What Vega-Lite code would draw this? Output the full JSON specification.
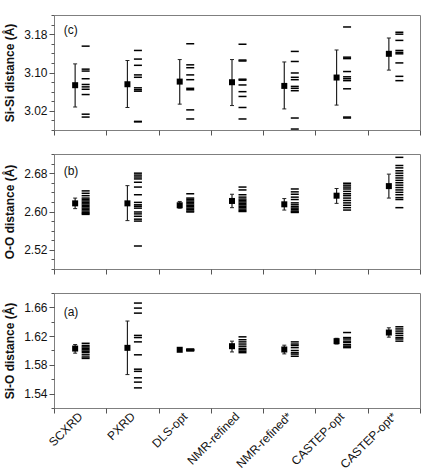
{
  "$schema": "https://vega.github.io/schema/vega-lite/v6.json",
  "padding": {"left": 3, "top": 14, "right": 5, "bottom": 0},
  "background": "white",
  "config": {
    "font": "Liberation Sans",
    "view": {"stroke": "#7f7f7f", "strokeWidth": 1},
    "concat": {"spacing": 17},
    "axis": {
      "domain": false,
      "grid": false,
      "labelFont": "Liberation Sans",
      "labelFontSize": 12,
      "labelColor": "#111111",
      "tickColor": "#555555",
      "titleFont": "Liberation Sans",
      "titleFontSize": 12,
      "titleFontWeight": "bold",
      "titleColor": "#111111"
    }
  },
  "datasets": {
    "means": [
      {"pair": "Si-Si", "method": "SCXRD", "mean": 3.0735, "lo": 3.028, "hi": 3.118},
      {"pair": "Si-Si", "method": "PXRD", "mean": 3.0755, "lo": 3.027, "hi": 3.125},
      {"pair": "Si-Si", "method": "DLS-opt", "mean": 3.081, "lo": 3.034, "hi": 3.127},
      {"pair": "Si-Si", "method": "NMR-refined", "mean": 3.0797, "lo": 3.031, "hi": 3.127},
      {"pair": "Si-Si", "method": "NMR-refined*", "mean": 3.072, "lo": 3.024, "hi": 3.122},
      {"pair": "Si-Si", "method": "CASTEP-opt", "mean": 3.0895, "lo": 3.032, "hi": 3.147},
      {"pair": "Si-Si", "method": "CASTEP-opt*", "mean": 3.139, "lo": 3.105, "hi": 3.172},
      {"pair": "O-O", "method": "SCXRD", "mean": 2.617, "lo": 2.606, "hi": 2.628},
      {"pair": "O-O", "method": "PXRD", "mean": 2.617, "lo": 2.581, "hi": 2.654},
      {"pair": "O-O", "method": "DLS-opt", "mean": 2.613, "lo": 2.607, "hi": 2.621},
      {"pair": "O-O", "method": "NMR-refined", "mean": 2.622, "lo": 2.608, "hi": 2.636},
      {"pair": "O-O", "method": "NMR-refined*", "mean": 2.615, "lo": 2.603, "hi": 2.627},
      {"pair": "O-O", "method": "CASTEP-opt", "mean": 2.633, "lo": 2.617, "hi": 2.648},
      {"pair": "O-O", "method": "CASTEP-opt*", "mean": 2.653, "lo": 2.628, "hi": 2.678},
      {"pair": "Si-O", "method": "SCXRD", "mean": 1.6027, "lo": 1.5963, "hi": 1.6083},
      {"pair": "Si-O", "method": "PXRD", "mean": 1.6037, "lo": 1.5665, "hi": 1.641},
      {"pair": "Si-O", "method": "DLS-opt", "mean": 1.601, "lo": 1.6, "hi": 1.602},
      {"pair": "Si-O", "method": "NMR-refined", "mean": 1.606, "lo": 1.598, "hi": 1.613},
      {"pair": "Si-O", "method": "NMR-refined*", "mean": 1.6014, "lo": 1.5953, "hi": 1.6074},
      {"pair": "Si-O", "method": "CASTEP-opt", "mean": 1.613, "lo": 1.609, "hi": 1.617},
      {"pair": "Si-O", "method": "CASTEP-opt*", "mean": 1.625, "lo": 1.6186, "hi": 1.6316}
    ],
    "dists": [
      {"pair": "Si-Si", "method": "SCXRD", "dist": 3.155},
      {"pair": "Si-Si", "method": "SCXRD", "dist": 3.107},
      {"pair": "Si-Si", "method": "SCXRD", "dist": 3.103},
      {"pair": "Si-Si", "method": "SCXRD", "dist": 3.087},
      {"pair": "Si-Si", "method": "SCXRD", "dist": 3.075},
      {"pair": "Si-Si", "method": "SCXRD", "dist": 3.070},
      {"pair": "Si-Si", "method": "SCXRD", "dist": 3.065},
      {"pair": "Si-Si", "method": "SCXRD", "dist": 3.054},
      {"pair": "Si-Si", "method": "SCXRD", "dist": 3.013},
      {"pair": "Si-Si", "method": "SCXRD", "dist": 3.007},
      {"pair": "Si-Si", "method": "PXRD", "dist": 3.146},
      {"pair": "Si-Si", "method": "PXRD", "dist": 3.128},
      {"pair": "Si-Si", "method": "PXRD", "dist": 3.115},
      {"pair": "Si-Si", "method": "PXRD", "dist": 3.095},
      {"pair": "Si-Si", "method": "PXRD", "dist": 3.090},
      {"pair": "Si-Si", "method": "PXRD", "dist": 3.068},
      {"pair": "Si-Si", "method": "PXRD", "dist": 3.064},
      {"pair": "Si-Si", "method": "PXRD", "dist": 3.061},
      {"pair": "Si-Si", "method": "PXRD", "dist": 2.998},
      {"pair": "Si-Si", "method": "PXRD", "dist": 2.997},
      {"pair": "Si-Si", "method": "DLS-opt", "dist": 3.160},
      {"pair": "Si-Si", "method": "DLS-opt", "dist": 3.116},
      {"pair": "Si-Si", "method": "DLS-opt", "dist": 3.110},
      {"pair": "Si-Si", "method": "DLS-opt", "dist": 3.095},
      {"pair": "Si-Si", "method": "DLS-opt", "dist": 3.085},
      {"pair": "Si-Si", "method": "DLS-opt", "dist": 3.067},
      {"pair": "Si-Si", "method": "DLS-opt", "dist": 3.064},
      {"pair": "Si-Si", "method": "DLS-opt", "dist": 3.022},
      {"pair": "Si-Si", "method": "DLS-opt", "dist": 3.003},
      {"pair": "Si-Si", "method": "NMR-refined", "dist": 3.159},
      {"pair": "Si-Si", "method": "NMR-refined", "dist": 3.126},
      {"pair": "Si-Si", "method": "NMR-refined", "dist": 3.124},
      {"pair": "Si-Si", "method": "NMR-refined", "dist": 3.086},
      {"pair": "Si-Si", "method": "NMR-refined", "dist": 3.084},
      {"pair": "Si-Si", "method": "NMR-refined", "dist": 3.074},
      {"pair": "Si-Si", "method": "NMR-refined", "dist": 3.060},
      {"pair": "Si-Si", "method": "NMR-refined", "dist": 3.050},
      {"pair": "Si-Si", "method": "NMR-refined", "dist": 3.027},
      {"pair": "Si-Si", "method": "NMR-refined", "dist": 3.003},
      {"pair": "Si-Si", "method": "NMR-refined*", "dist": 3.144},
      {"pair": "Si-Si", "method": "NMR-refined*", "dist": 3.123},
      {"pair": "Si-Si", "method": "NMR-refined*", "dist": 3.099},
      {"pair": "Si-Si", "method": "NMR-refined*", "dist": 3.090},
      {"pair": "Si-Si", "method": "NMR-refined*", "dist": 3.085},
      {"pair": "Si-Si", "method": "NMR-refined*", "dist": 3.071},
      {"pair": "Si-Si", "method": "NMR-refined*", "dist": 3.067},
      {"pair": "Si-Si", "method": "NMR-refined*", "dist": 3.062},
      {"pair": "Si-Si", "method": "NMR-refined*", "dist": 3.005},
      {"pair": "Si-Si", "method": "NMR-refined*", "dist": 2.982},
      {"pair": "Si-Si", "method": "CASTEP-opt", "dist": 3.195},
      {"pair": "Si-Si", "method": "CASTEP-opt", "dist": 3.132},
      {"pair": "Si-Si", "method": "CASTEP-opt", "dist": 3.129},
      {"pair": "Si-Si", "method": "CASTEP-opt", "dist": 3.102},
      {"pair": "Si-Si", "method": "CASTEP-opt", "dist": 3.091},
      {"pair": "Si-Si", "method": "CASTEP-opt", "dist": 3.087},
      {"pair": "Si-Si", "method": "CASTEP-opt", "dist": 3.083},
      {"pair": "Si-Si", "method": "CASTEP-opt", "dist": 3.066},
      {"pair": "Si-Si", "method": "CASTEP-opt", "dist": 3.007},
      {"pair": "Si-Si", "method": "CASTEP-opt", "dist": 3.005},
      {"pair": "Si-Si", "method": "CASTEP-opt*", "dist": 3.184},
      {"pair": "Si-Si", "method": "CASTEP-opt*", "dist": 3.180},
      {"pair": "Si-Si", "method": "CASTEP-opt*", "dist": 3.167},
      {"pair": "Si-Si", "method": "CASTEP-opt*", "dist": 3.146},
      {"pair": "Si-Si", "method": "CASTEP-opt*", "dist": 3.142},
      {"pair": "Si-Si", "method": "CASTEP-opt*", "dist": 3.139},
      {"pair": "Si-Si", "method": "CASTEP-opt*", "dist": 3.120},
      {"pair": "Si-Si", "method": "CASTEP-opt*", "dist": 3.092},
      {"pair": "Si-Si", "method": "CASTEP-opt*", "dist": 3.083},
      {"pair": "O-O", "method": "SCXRD", "dist": 2.643},
      {"pair": "O-O", "method": "SCXRD", "dist": 2.638},
      {"pair": "O-O", "method": "SCXRD", "dist": 2.633},
      {"pair": "O-O", "method": "SCXRD", "dist": 2.628},
      {"pair": "O-O", "method": "SCXRD", "dist": 2.625},
      {"pair": "O-O", "method": "SCXRD", "dist": 2.622},
      {"pair": "O-O", "method": "SCXRD", "dist": 2.619},
      {"pair": "O-O", "method": "SCXRD", "dist": 2.616},
      {"pair": "O-O", "method": "SCXRD", "dist": 2.613},
      {"pair": "O-O", "method": "SCXRD", "dist": 2.610},
      {"pair": "O-O", "method": "SCXRD", "dist": 2.607},
      {"pair": "O-O", "method": "SCXRD", "dist": 2.604},
      {"pair": "O-O", "method": "SCXRD", "dist": 2.601},
      {"pair": "O-O", "method": "SCXRD", "dist": 2.598},
      {"pair": "O-O", "method": "SCXRD", "dist": 2.596},
      {"pair": "O-O", "method": "SCXRD", "dist": 2.594},
      {"pair": "O-O", "method": "PXRD", "dist": 2.680},
      {"pair": "O-O", "method": "PXRD", "dist": 2.676},
      {"pair": "O-O", "method": "PXRD", "dist": 2.672},
      {"pair": "O-O", "method": "PXRD", "dist": 2.668},
      {"pair": "O-O", "method": "PXRD", "dist": 2.661},
      {"pair": "O-O", "method": "PXRD", "dist": 2.651},
      {"pair": "O-O", "method": "PXRD", "dist": 2.635},
      {"pair": "O-O", "method": "PXRD", "dist": 2.619},
      {"pair": "O-O", "method": "PXRD", "dist": 2.614},
      {"pair": "O-O", "method": "PXRD", "dist": 2.611},
      {"pair": "O-O", "method": "PXRD", "dist": 2.607},
      {"pair": "O-O", "method": "PXRD", "dist": 2.599},
      {"pair": "O-O", "method": "PXRD", "dist": 2.595},
      {"pair": "O-O", "method": "PXRD", "dist": 2.590},
      {"pair": "O-O", "method": "PXRD", "dist": 2.584},
      {"pair": "O-O", "method": "PXRD", "dist": 2.580},
      {"pair": "O-O", "method": "PXRD", "dist": 2.528},
      {"pair": "O-O", "method": "DLS-opt", "dist": 2.637},
      {"pair": "O-O", "method": "DLS-opt", "dist": 2.628},
      {"pair": "O-O", "method": "DLS-opt", "dist": 2.625},
      {"pair": "O-O", "method": "DLS-opt", "dist": 2.622},
      {"pair": "O-O", "method": "DLS-opt", "dist": 2.619},
      {"pair": "O-O", "method": "DLS-opt", "dist": 2.616},
      {"pair": "O-O", "method": "DLS-opt", "dist": 2.613},
      {"pair": "O-O", "method": "DLS-opt", "dist": 2.610},
      {"pair": "O-O", "method": "DLS-opt", "dist": 2.607},
      {"pair": "O-O", "method": "DLS-opt", "dist": 2.604},
      {"pair": "O-O", "method": "DLS-opt", "dist": 2.601},
      {"pair": "O-O", "method": "DLS-opt", "dist": 2.599},
      {"pair": "O-O", "method": "NMR-refined", "dist": 2.651},
      {"pair": "O-O", "method": "NMR-refined", "dist": 2.645},
      {"pair": "O-O", "method": "NMR-refined", "dist": 2.635},
      {"pair": "O-O", "method": "NMR-refined", "dist": 2.630},
      {"pair": "O-O", "method": "NMR-refined", "dist": 2.626},
      {"pair": "O-O", "method": "NMR-refined", "dist": 2.623},
      {"pair": "O-O", "method": "NMR-refined", "dist": 2.620},
      {"pair": "O-O", "method": "NMR-refined", "dist": 2.617},
      {"pair": "O-O", "method": "NMR-refined", "dist": 2.614},
      {"pair": "O-O", "method": "NMR-refined", "dist": 2.611},
      {"pair": "O-O", "method": "NMR-refined", "dist": 2.608},
      {"pair": "O-O", "method": "NMR-refined", "dist": 2.605},
      {"pair": "O-O", "method": "NMR-refined", "dist": 2.602},
      {"pair": "O-O", "method": "NMR-refined", "dist": 2.600},
      {"pair": "O-O", "method": "NMR-refined*", "dist": 2.647},
      {"pair": "O-O", "method": "NMR-refined*", "dist": 2.641},
      {"pair": "O-O", "method": "NMR-refined*", "dist": 2.636},
      {"pair": "O-O", "method": "NMR-refined*", "dist": 2.630},
      {"pair": "O-O", "method": "NMR-refined*", "dist": 2.625},
      {"pair": "O-O", "method": "NMR-refined*", "dist": 2.618},
      {"pair": "O-O", "method": "NMR-refined*", "dist": 2.614},
      {"pair": "O-O", "method": "NMR-refined*", "dist": 2.610},
      {"pair": "O-O", "method": "NMR-refined*", "dist": 2.607},
      {"pair": "O-O", "method": "NMR-refined*", "dist": 2.604},
      {"pair": "O-O", "method": "NMR-refined*", "dist": 2.601},
      {"pair": "O-O", "method": "NMR-refined*", "dist": 2.599},
      {"pair": "O-O", "method": "NMR-refined*", "dist": 2.598},
      {"pair": "O-O", "method": "CASTEP-opt", "dist": 2.659},
      {"pair": "O-O", "method": "CASTEP-opt", "dist": 2.655},
      {"pair": "O-O", "method": "CASTEP-opt", "dist": 2.651},
      {"pair": "O-O", "method": "CASTEP-opt", "dist": 2.647},
      {"pair": "O-O", "method": "CASTEP-opt", "dist": 2.642},
      {"pair": "O-O", "method": "CASTEP-opt", "dist": 2.637},
      {"pair": "O-O", "method": "CASTEP-opt", "dist": 2.633},
      {"pair": "O-O", "method": "CASTEP-opt", "dist": 2.628},
      {"pair": "O-O", "method": "CASTEP-opt", "dist": 2.623},
      {"pair": "O-O", "method": "CASTEP-opt", "dist": 2.618},
      {"pair": "O-O", "method": "CASTEP-opt", "dist": 2.613},
      {"pair": "O-O", "method": "CASTEP-opt", "dist": 2.608},
      {"pair": "O-O", "method": "CASTEP-opt", "dist": 2.603},
      {"pair": "O-O", "method": "CASTEP-opt*", "dist": 2.713},
      {"pair": "O-O", "method": "CASTEP-opt*", "dist": 2.696},
      {"pair": "O-O", "method": "CASTEP-opt*", "dist": 2.691},
      {"pair": "O-O", "method": "CASTEP-opt*", "dist": 2.685},
      {"pair": "O-O", "method": "CASTEP-opt*", "dist": 2.680},
      {"pair": "O-O", "method": "CASTEP-opt*", "dist": 2.675},
      {"pair": "O-O", "method": "CASTEP-opt*", "dist": 2.670},
      {"pair": "O-O", "method": "CASTEP-opt*", "dist": 2.665},
      {"pair": "O-O", "method": "CASTEP-opt*", "dist": 2.660},
      {"pair": "O-O", "method": "CASTEP-opt*", "dist": 2.655},
      {"pair": "O-O", "method": "CASTEP-opt*", "dist": 2.650},
      {"pair": "O-O", "method": "CASTEP-opt*", "dist": 2.645},
      {"pair": "O-O", "method": "CASTEP-opt*", "dist": 2.640},
      {"pair": "O-O", "method": "CASTEP-opt*", "dist": 2.635},
      {"pair": "O-O", "method": "CASTEP-opt*", "dist": 2.629},
      {"pair": "O-O", "method": "CASTEP-opt*", "dist": 2.625},
      {"pair": "O-O", "method": "CASTEP-opt*", "dist": 2.608},
      {"pair": "Si-O", "method": "SCXRD", "dist": 1.610},
      {"pair": "Si-O", "method": "SCXRD", "dist": 1.607},
      {"pair": "Si-O", "method": "SCXRD", "dist": 1.605},
      {"pair": "Si-O", "method": "SCXRD", "dist": 1.603},
      {"pair": "Si-O", "method": "SCXRD", "dist": 1.601},
      {"pair": "Si-O", "method": "SCXRD", "dist": 1.599},
      {"pair": "Si-O", "method": "SCXRD", "dist": 1.597},
      {"pair": "Si-O", "method": "SCXRD", "dist": 1.594},
      {"pair": "Si-O", "method": "SCXRD", "dist": 1.591},
      {"pair": "Si-O", "method": "SCXRD", "dist": 1.589},
      {"pair": "Si-O", "method": "PXRD", "dist": 1.666},
      {"pair": "Si-O", "method": "PXRD", "dist": 1.659},
      {"pair": "Si-O", "method": "PXRD", "dist": 1.652},
      {"pair": "Si-O", "method": "PXRD", "dist": 1.621},
      {"pair": "Si-O", "method": "PXRD", "dist": 1.618},
      {"pair": "Si-O", "method": "PXRD", "dist": 1.612},
      {"pair": "Si-O", "method": "PXRD", "dist": 1.594},
      {"pair": "Si-O", "method": "PXRD", "dist": 1.574},
      {"pair": "Si-O", "method": "PXRD", "dist": 1.571},
      {"pair": "Si-O", "method": "PXRD", "dist": 1.562},
      {"pair": "Si-O", "method": "PXRD", "dist": 1.556},
      {"pair": "Si-O", "method": "PXRD", "dist": 1.548},
      {"pair": "Si-O", "method": "DLS-opt", "dist": 1.602},
      {"pair": "Si-O", "method": "DLS-opt", "dist": 1.6015},
      {"pair": "Si-O", "method": "DLS-opt", "dist": 1.601},
      {"pair": "Si-O", "method": "DLS-opt", "dist": 1.6005},
      {"pair": "Si-O", "method": "DLS-opt", "dist": 1.600},
      {"pair": "Si-O", "method": "DLS-opt", "dist": 1.5995},
      {"pair": "Si-O", "method": "NMR-refined", "dist": 1.619},
      {"pair": "Si-O", "method": "NMR-refined", "dist": 1.615},
      {"pair": "Si-O", "method": "NMR-refined", "dist": 1.612},
      {"pair": "Si-O", "method": "NMR-refined", "dist": 1.609},
      {"pair": "Si-O", "method": "NMR-refined", "dist": 1.606},
      {"pair": "Si-O", "method": "NMR-refined", "dist": 1.603},
      {"pair": "Si-O", "method": "NMR-refined", "dist": 1.601},
      {"pair": "Si-O", "method": "NMR-refined", "dist": 1.599},
      {"pair": "Si-O", "method": "NMR-refined", "dist": 1.597},
      {"pair": "Si-O", "method": "NMR-refined*", "dist": 1.612},
      {"pair": "Si-O", "method": "NMR-refined*", "dist": 1.609},
      {"pair": "Si-O", "method": "NMR-refined*", "dist": 1.607},
      {"pair": "Si-O", "method": "NMR-refined*", "dist": 1.604},
      {"pair": "Si-O", "method": "NMR-refined*", "dist": 1.600},
      {"pair": "Si-O", "method": "NMR-refined*", "dist": 1.597},
      {"pair": "Si-O", "method": "NMR-refined*", "dist": 1.595},
      {"pair": "Si-O", "method": "NMR-refined*", "dist": 1.592},
      {"pair": "Si-O", "method": "CASTEP-opt", "dist": 1.625},
      {"pair": "Si-O", "method": "CASTEP-opt", "dist": 1.618},
      {"pair": "Si-O", "method": "CASTEP-opt", "dist": 1.616},
      {"pair": "Si-O", "method": "CASTEP-opt", "dist": 1.613},
      {"pair": "Si-O", "method": "CASTEP-opt", "dist": 1.611},
      {"pair": "Si-O", "method": "CASTEP-opt", "dist": 1.608},
      {"pair": "Si-O", "method": "CASTEP-opt", "dist": 1.606},
      {"pair": "Si-O", "method": "CASTEP-opt", "dist": 1.604},
      {"pair": "Si-O", "method": "CASTEP-opt*", "dist": 1.633},
      {"pair": "Si-O", "method": "CASTEP-opt*", "dist": 1.630},
      {"pair": "Si-O", "method": "CASTEP-opt*", "dist": 1.627},
      {"pair": "Si-O", "method": "CASTEP-opt*", "dist": 1.624},
      {"pair": "Si-O", "method": "CASTEP-opt*", "dist": 1.621},
      {"pair": "Si-O", "method": "CASTEP-opt*", "dist": 1.618},
      {"pair": "Si-O", "method": "CASTEP-opt*", "dist": 1.616},
      {"pair": "Si-O", "method": "CASTEP-opt*", "dist": 1.613}
    ]
  },
  "vconcat": [
    {
      "width": 366,
      "height": 115,
      "resolve": {"axis": {"x": "independent", "y": "independent"}},
      "layer": [
        {
          "data": {"name": "dists"},
          "transform": [{"filter": "datum.pair === 'Si-Si'"}],
          "mark": {"type": "tick", "size": 8, "thickness": 1.5, "color": "#000000", "opacity": 1, "xOffset": 5.5},
          "encoding": {
            "x": {"field": "method", "type": "nominal", "sort": null,
                  "scale": {"domain": ["SCXRD", "PXRD", "DLS-opt", "NMR-refined", "NMR-refined*", "CASTEP-opt", "CASTEP-opt*"], "paddingInner": 0, "paddingOuter": 0},
                  "axis": {"title": null, "labels": false, "tickBand": "extent", "tickSize": 5}},
            "y": {"field": "dist", "type": "quantitative",
                  "scale": {"domain": [2.98, 3.22], "nice": false, "zero": false},
                  "axis": {"title": "Si-Si distance (Å)", "titlePadding": 7, "orient": "left",
                           "values": [3.02, 3.1, 3.18], "format": ".2f", "tickSize": 5, "labelPadding": 2}}
          }
        },
        {
          "data": {"name": "means"},
          "transform": [{"filter": "datum.pair === 'Si-Si'"}],
          "mark": {"type": "rule", "color": "#222222", "strokeWidth": 1.2, "xOffset": -5},
          "encoding": {
            "x": {"field": "method", "type": "nominal", "sort": null, "axis": null},
            "y": {"field": "lo", "type": "quantitative",
                  "axis": {"title": null, "orient": "left", "labels": false, "tickSize": 3,
                           "values": [2.98, 3.0, 3.02, 3.04, 3.06, 3.08, 3.1, 3.12, 3.14, 3.16, 3.18, 3.2, 3.22]}},
            "y2": {"field": "hi"}
          }
        },
        {
          "data": {"name": "means"},
          "transform": [{"filter": "datum.pair === 'Si-Si'"}],
          "mark": {"type": "tick", "size": 4, "thickness": 1, "color": "#222222", "opacity": 1, "xOffset": -5},
          "encoding": {
            "x": {"field": "method", "type": "nominal", "sort": null, "axis": null},
            "y": {"field": "lo", "type": "quantitative", "axis": null}
          }
        },
        {
          "data": {"name": "means"},
          "transform": [{"filter": "datum.pair === 'Si-Si'"}],
          "mark": {"type": "tick", "size": 4, "thickness": 1, "color": "#222222", "opacity": 1, "xOffset": -5},
          "encoding": {
            "x": {"field": "method", "type": "nominal", "sort": null, "axis": null},
            "y": {"field": "hi", "type": "quantitative", "axis": null}
          }
        },
        {
          "data": {"name": "means"},
          "transform": [{"filter": "datum.pair === 'Si-Si'"}],
          "mark": {"type": "point", "shape": "square", "size": 36, "filled": true, "color": "#000000", "opacity": 1, "xOffset": -5},
          "encoding": {
            "x": {"field": "method", "type": "nominal", "sort": null, "axis": null},
            "y": {"field": "mean", "type": "quantitative", "axis": null}
          }
        },
        {
          "data": {"values": [{"panel": "(c)"}]},
          "mark": {"type": "text", "align": "left", "baseline": "middle", "fontSize": 12, "color": "#111111", "dx": -16.5},
          "encoding": {
            "x": {"datum": "SCXRD", "axis": null},
            "y": {"datum": 3.188, "axis": null},
            "text": {"field": "panel"}
          }
        }
      ]
    },
    {
      "width": 366,
      "height": 115,
      "resolve": {"axis": {"x": "independent", "y": "independent"}},
      "layer": [
        {
          "data": {"name": "dists"},
          "transform": [{"filter": "datum.pair === 'O-O'"}],
          "mark": {"type": "tick", "size": 8, "thickness": 1.5, "color": "#000000", "opacity": 1, "xOffset": 5.5},
          "encoding": {
            "x": {"field": "method", "type": "nominal", "sort": null,
                  "scale": {"domain": ["SCXRD", "PXRD", "DLS-opt", "NMR-refined", "NMR-refined*", "CASTEP-opt", "CASTEP-opt*"], "paddingInner": 0, "paddingOuter": 0},
                  "axis": {"title": null, "labels": false, "tickBand": "extent", "tickSize": 5}},
            "y": {"field": "dist", "type": "quantitative",
                  "scale": {"domain": [2.48, 2.72], "nice": false, "zero": false},
                  "axis": {"title": "O-O distance (Å)", "titlePadding": 7, "orient": "left",
                           "values": [2.52, 2.6, 2.68], "format": ".2f", "tickSize": 5, "labelPadding": 2}}
          }
        },
        {
          "data": {"name": "means"},
          "transform": [{"filter": "datum.pair === 'O-O'"}],
          "mark": {"type": "rule", "color": "#222222", "strokeWidth": 1.2, "xOffset": -5},
          "encoding": {
            "x": {"field": "method", "type": "nominal", "sort": null, "axis": null},
            "y": {"field": "lo", "type": "quantitative",
                  "axis": {"title": null, "orient": "left", "labels": false, "tickSize": 3,
                           "values": [2.48, 2.5, 2.52, 2.54, 2.56, 2.58, 2.6, 2.62, 2.64, 2.66, 2.68, 2.7, 2.72]}},
            "y2": {"field": "hi"}
          }
        },
        {
          "data": {"name": "means"},
          "transform": [{"filter": "datum.pair === 'O-O'"}],
          "mark": {"type": "tick", "size": 4, "thickness": 1, "color": "#222222", "opacity": 1, "xOffset": -5},
          "encoding": {
            "x": {"field": "method", "type": "nominal", "sort": null, "axis": null},
            "y": {"field": "lo", "type": "quantitative", "axis": null}
          }
        },
        {
          "data": {"name": "means"},
          "transform": [{"filter": "datum.pair === 'O-O'"}],
          "mark": {"type": "tick", "size": 4, "thickness": 1, "color": "#222222", "opacity": 1, "xOffset": -5},
          "encoding": {
            "x": {"field": "method", "type": "nominal", "sort": null, "axis": null},
            "y": {"field": "hi", "type": "quantitative", "axis": null}
          }
        },
        {
          "data": {"name": "means"},
          "transform": [{"filter": "datum.pair === 'O-O'"}],
          "mark": {"type": "point", "shape": "square", "size": 36, "filled": true, "color": "#000000", "opacity": 1, "xOffset": -5},
          "encoding": {
            "x": {"field": "method", "type": "nominal", "sort": null, "axis": null},
            "y": {"field": "mean", "type": "quantitative", "axis": null}
          }
        },
        {
          "data": {"values": [{"panel": "(b)"}]},
          "mark": {"type": "text", "align": "left", "baseline": "middle", "fontSize": 12, "color": "#111111", "dx": -16.5},
          "encoding": {
            "x": {"datum": "SCXRD", "axis": null},
            "y": {"datum": 2.685, "axis": null},
            "text": {"field": "panel"}
          }
        }
      ]
    },
    {
      "width": 366,
      "height": 115,
      "resolve": {"axis": {"x": "independent", "y": "independent"}},
      "layer": [
        {
          "data": {"name": "dists"},
          "transform": [{"filter": "datum.pair === 'Si-O'"}],
          "mark": {"type": "tick", "size": 8, "thickness": 1.5, "color": "#000000", "opacity": 1, "xOffset": 5.5},
          "encoding": {
            "x": {"field": "method", "type": "nominal", "sort": null,
                  "scale": {"domain": ["SCXRD", "PXRD", "DLS-opt", "NMR-refined", "NMR-refined*", "CASTEP-opt", "CASTEP-opt*"], "paddingInner": 0, "paddingOuter": 0},
                  "axis": {"title": null, "tickBand": "extent", "tickSize": 5, "labelAngle": -45, "labelAlign": "right", "labelBaseline": "middle", "labelPadding": 1}},
            "y": {"field": "dist", "type": "quantitative",
                  "scale": {"domain": [1.52, 1.68], "nice": false, "zero": false},
                  "axis": {"title": "Si-O distance (Å)", "titlePadding": 7, "orient": "left",
                           "values": [1.54, 1.58, 1.62, 1.66], "format": ".2f", "tickSize": 5, "labelPadding": 2}}
          }
        },
        {
          "data": {"name": "means"},
          "transform": [{"filter": "datum.pair === 'Si-O'"}],
          "mark": {"type": "rule", "color": "#222222", "strokeWidth": 1.2, "xOffset": -5},
          "encoding": {
            "x": {"field": "method", "type": "nominal", "sort": null, "axis": null},
            "y": {"field": "lo", "type": "quantitative",
                  "axis": {"title": null, "orient": "left", "labels": false, "tickSize": 3,
                           "values": [1.52, 1.54, 1.56, 1.58, 1.6, 1.62, 1.64, 1.66, 1.68]}},
            "y2": {"field": "hi"}
          }
        },
        {
          "data": {"name": "means"},
          "transform": [{"filter": "datum.pair === 'Si-O'"}],
          "mark": {"type": "tick", "size": 4, "thickness": 1, "color": "#222222", "opacity": 1, "xOffset": -5},
          "encoding": {
            "x": {"field": "method", "type": "nominal", "sort": null, "axis": null},
            "y": {"field": "lo", "type": "quantitative", "axis": null}
          }
        },
        {
          "data": {"name": "means"},
          "transform": [{"filter": "datum.pair === 'Si-O'"}],
          "mark": {"type": "tick", "size": 4, "thickness": 1, "color": "#222222", "opacity": 1, "xOffset": -5},
          "encoding": {
            "x": {"field": "method", "type": "nominal", "sort": null, "axis": null},
            "y": {"field": "hi", "type": "quantitative", "axis": null}
          }
        },
        {
          "data": {"name": "means"},
          "transform": [{"filter": "datum.pair === 'Si-O'"}],
          "mark": {"type": "point", "shape": "square", "size": 36, "filled": true, "color": "#000000", "opacity": 1, "xOffset": -5},
          "encoding": {
            "x": {"field": "method", "type": "nominal", "sort": null, "axis": null},
            "y": {"field": "mean", "type": "quantitative", "axis": null}
          }
        },
        {
          "data": {"values": [{"panel": "(a)"}]},
          "mark": {"type": "text", "align": "left", "baseline": "middle", "fontSize": 12, "color": "#111111", "dx": -16.5},
          "encoding": {
            "x": {"datum": "SCXRD", "axis": null},
            "y": {"datum": 1.653, "axis": null},
            "text": {"field": "panel"}
          }
        }
      ]
    }
  ]
}
